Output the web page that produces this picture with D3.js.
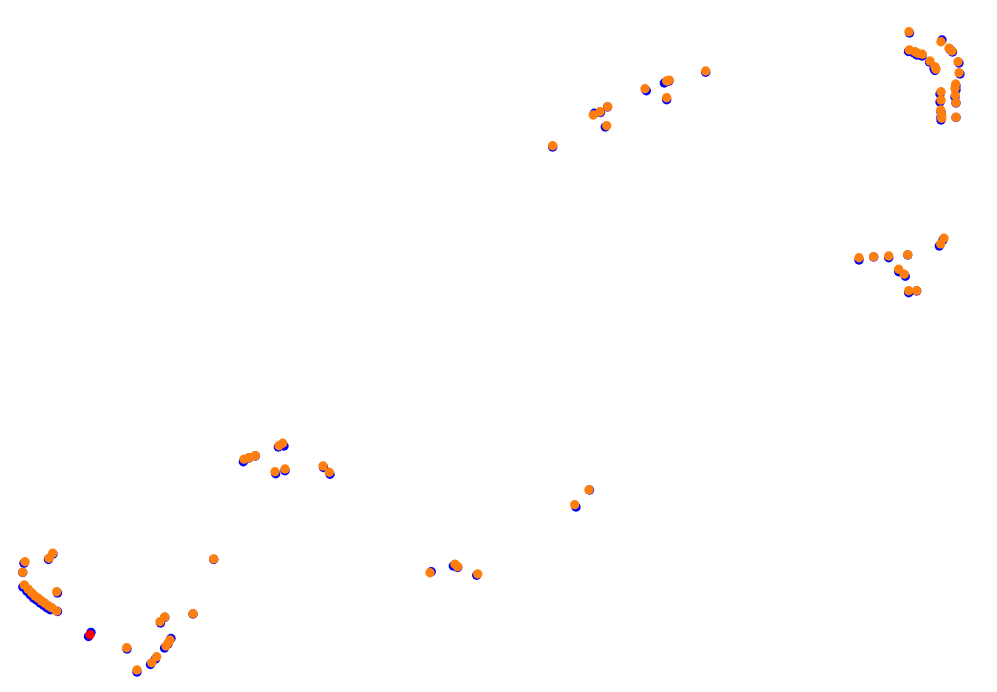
<!DOCTYPE html>
<html><head><meta charset="utf-8">
<script src="https://cdn.jsdelivr.net/npm/d3@7"></script>
<style>html,body{margin:0;padding:0;background:#fff;}svg{display:block;}</style>
</head><body>
<svg id="chart" width="997" height="692"></svg>
<script>
// Track positions (x, y), series A (orange, on top)
const orangeX = [909,909.3,915,917.7,922.3,930,935,936,941,949,952,958,959,955.7,955,955.3,956,956,941,941,940.7,941.7,941.7,
 705.7,666.7,669.3,645,666.7,607.7,600,593.3,606.7,552.7,
 859,873.7,888.7,907.7,898.7,904.3,908.7,916.7,944,940.7,
 244,249.3,255.3,279,282.7,275,285,323,329.3,
 52.7,49,25,22.7,24.3,28.3,31.7,35,38.3,41.7,45,48.3,51.7,56.7,56.7,
 213.7,193,164.7,160,170,168.3,166,156.7,151.7,137,126.7,
 589,574.7,455,457.7,430,477.7];
const orangeY = [31.7,50,51.7,53.3,54.3,61,66.7,69.3,41.7,48.3,51,61.7,72.7,84,88.3,95,102.7,117.3,91.7,100,110,115,118.3,
 71,81,80.3,88.7,97.7,106.7,111.7,115,125.7,145.7,
 257.7,256.7,256,254.7,269.3,274.3,290.7,290.7,238.3,244,
 459.3,457.7,455.7,445.7,443.3,471.7,469,466,472.3,
 553.3,558.3,561.7,572.3,585,589.3,592.7,596,598.3,601,603.3,605.7,607.7,611,591.7,
 559,613.7,617,621.7,640,642.7,646,656.7,662.7,670,647.7,
 489.7,504.7,564.3,566.7,572.7,574];
// Series B (blue, underneath)
const blueX = [909.5,908.5,914,917,922,929.5,934,935,942,950,952.5,959,960,956,956,955,956,956,940,940,941,941,941,
 705.7,664.3,669,646.3,666.7,607.5,600.5,594.3,605.3,552.7,
 859,873.7,888.7,907.7,898.7,905.3,908.7,916.7,943,939.3,
 243.3,249,255.3,278.3,284,275.7,285,323.5,330,
 53,48.5,24,22.7,22.8,26.8,30.2,33.5,36.8,40.2,43.5,46.8,50.2,57.5,57.5,
 213.7,193,164.7,160.5,171,168,164.5,155.5,150.5,137,127,
 589.5,576,453.3,457.7,431.3,476.7,
 91,88.5];
const blueY = [33,51.5,53,55,56,62,68.5,70.5,40,49.5,52,63,74,86,90,97,103,117.5,94,102,112,117,120,
 72.3,83,81,90.7,99.7,107,112.5,113.3,127,147,
 260,257,257.7,255,271.7,276.3,292.7,291,240,246,
 461.7,458,456,447,446,473.7,470.7,467.5,474.3,
 554,559.5,563.3,572.5,587,591.3,594.7,598,600.3,603,605.3,607.7,609.7,611.5,593,
 559.5,614,617.5,623,638.5,644,648,659,664.5,672,649,
 490,507,566,567.5,571.7,575.3,
 632.5,636.5];
// Highlighted point (red)
const redX = [90];
const redY = [634.7];

const svg = d3.select("#chart");
const W = 997, H = 692;
const x = d3.scaleLinear().domain([0, 997]).range([0, W]);
const y = d3.scaleLinear().domain([0, 692]).range([0, H]);
const R = 4.7;

svg.append("g").selectAll("circle").data(d3.range(blueX.length)).join("circle")
  .attr("cx", i => x(blueX[i])).attr("cy", i => y(blueY[i])).attr("r", R).attr("fill", "#0000ff");
svg.append("g").selectAll("circle").data(d3.range(orangeX.length)).join("circle")
  .attr("cx", i => x(orangeX[i])).attr("cy", i => y(orangeY[i])).attr("r", R).attr("fill", "#ff7f0e");
svg.append("g").selectAll("circle").data(d3.range(redX.length)).join("circle")
  .attr("cx", i => x(redX[i])).attr("cy", i => y(redY[i])).attr("r", R).attr("fill", "#ff0000");
</script>
</body></html>
